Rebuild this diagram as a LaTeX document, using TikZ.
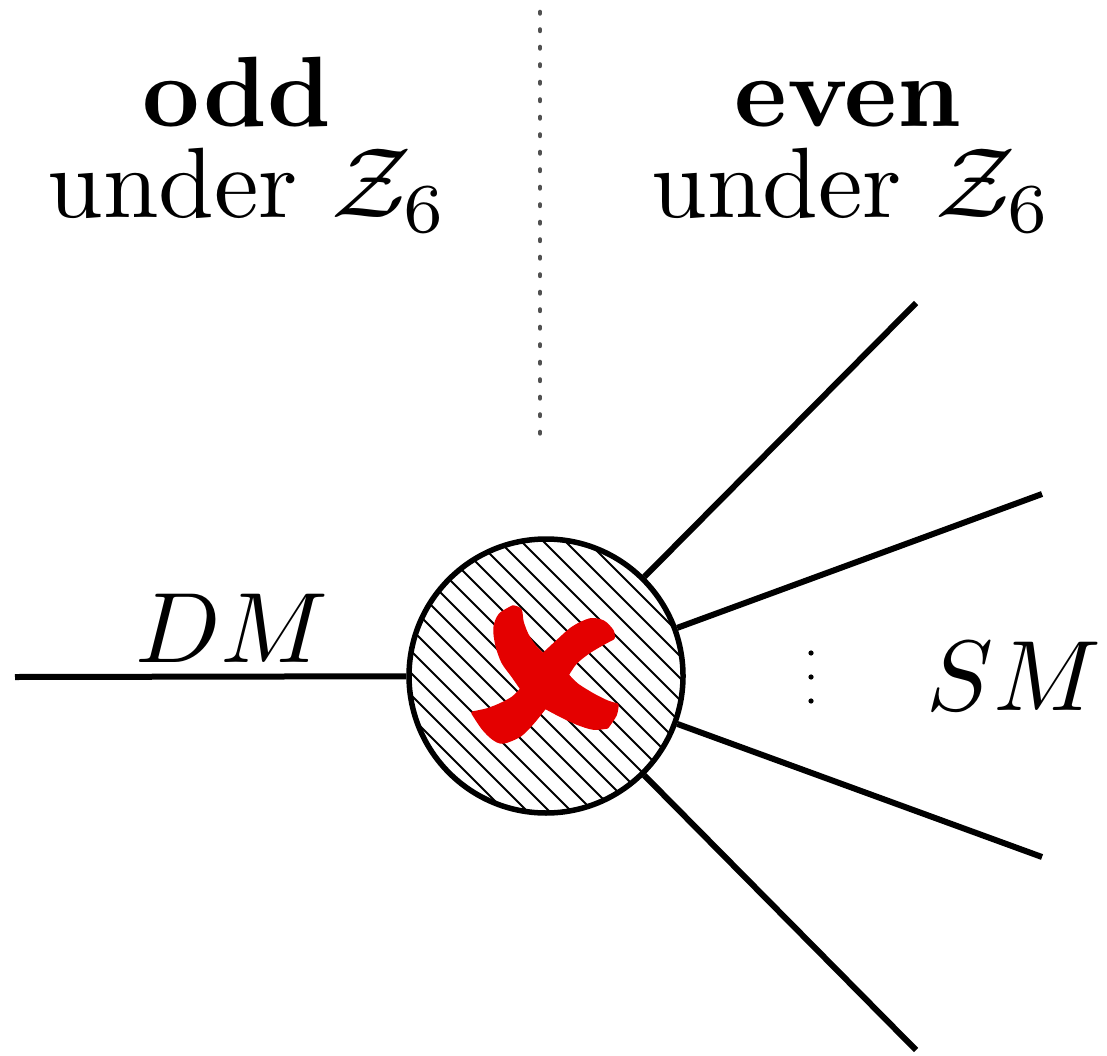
\documentclass[tikz,border=0pt]{standalone}
\usetikzlibrary{calc}
\definecolor{xred}{RGB}{228,0,0}
\definecolor{dotgray}{RGB}{80,80,80}
\begin{document}
\begin{tikzpicture}[x=0.1pt,y=-0.1pt,
  leg/.style={line width=0.6pt},
  hatch/.style={line width=0.2pt},
  lbl/.style={inner sep=0pt,anchor=base},
  dotmark/.style={fill=black},
  divider/.style={dotgray,line width=0.45pt,line cap=round,dash pattern=on 0.15pt off 1.6pt}]
\useasboundingbox (0,0) rectangle (1107,1055);
% divider
\coordinate (dtop) at (540,12);
\coordinate (dbot) at (540,443);
\draw[divider] (dtop) -- (dbot);
% headings
\node[lbl] (odd) at (237,127) {\textbf{odd}};
\node[lbl] (undodd) at (248,218) {under $\mathcal{Z}_6$};
\node[lbl] (even) at (848,127) {\textbf{even}};
\node[lbl] (undeven) at (852,218) {under $\mathcal{Z}_6$};
% blob
\coordinate (c) at (546,676);
\begin{scope}
  \clip (c) circle[radius=137];
  \foreach \k in {-14,...,14} {
    \draw[hatch] ($(c)+(\k*22-250,-250)$) -- ++(500,500);
  }
\end{scope}
\node[circle,draw,line width=0.55pt,minimum size=27.4pt,inner sep=0pt] (blob) at (c) {};
% red cross
\filldraw[xred,line width=0.35pt,line join=round]
  plot[smooth] coordinates {(513,607) (500,615) (495,628) (497,645) (503,662) (513,676) (522,689)}
  -- plot[smooth] coordinates {(522,689) (513,698) (500,705) (487,710) (473,713)}
  -- plot[smooth] coordinates {(473,713) (483,728) (493,738) (503,742) (520,735) (533,722) (545,707)}
  -- plot[smooth] coordinates {(545,707) (560,715) (577,723) (593,728) (607,727)}
  -- plot[smooth] coordinates {(607,727) (615,715) (617,705)}
  -- plot[smooth] coordinates {(617,705) (607,702) (593,695) (577,685) (567,675)}
  -- plot[smooth] coordinates {(567,675) (575,663) (587,653) (600,645) (613,638)}
  -- plot[smooth] coordinates {(613,638) (612,631) (603,622) (590,620) (573,628) (557,642) (543,655)}
  -- plot[smooth] coordinates {(543,655) (535,647) (527,635) (522,622) (520,610) (513,607)}
  -- cycle;
% legs
\coordinate (dmend) at (15,677);
\coordinate (e1) at (916,303);
\coordinate (e2) at (1042,494);
\coordinate (e3) at (1042,857);
\coordinate (e4) at (916,1050);
\draw[leg] (dmend) -- (blob);
\draw[leg] (blob) -- (e1);
\draw[leg] (blob) -- (e2);
\draw[leg] (blob) -- (e3);
\draw[leg] (blob) -- (e4);
% labels
\node[lbl] (dm) at (232,662) {$DM$};
\node[lbl] (sm) at (1014,710) {$SM$};
\fill[dotmark] (811,653) circle[radius=2.6];
\fill[dotmark] (811,677) circle[radius=2.6];
\fill[dotmark] (811,701) circle[radius=2.6];
\end{tikzpicture}
\end{document}
